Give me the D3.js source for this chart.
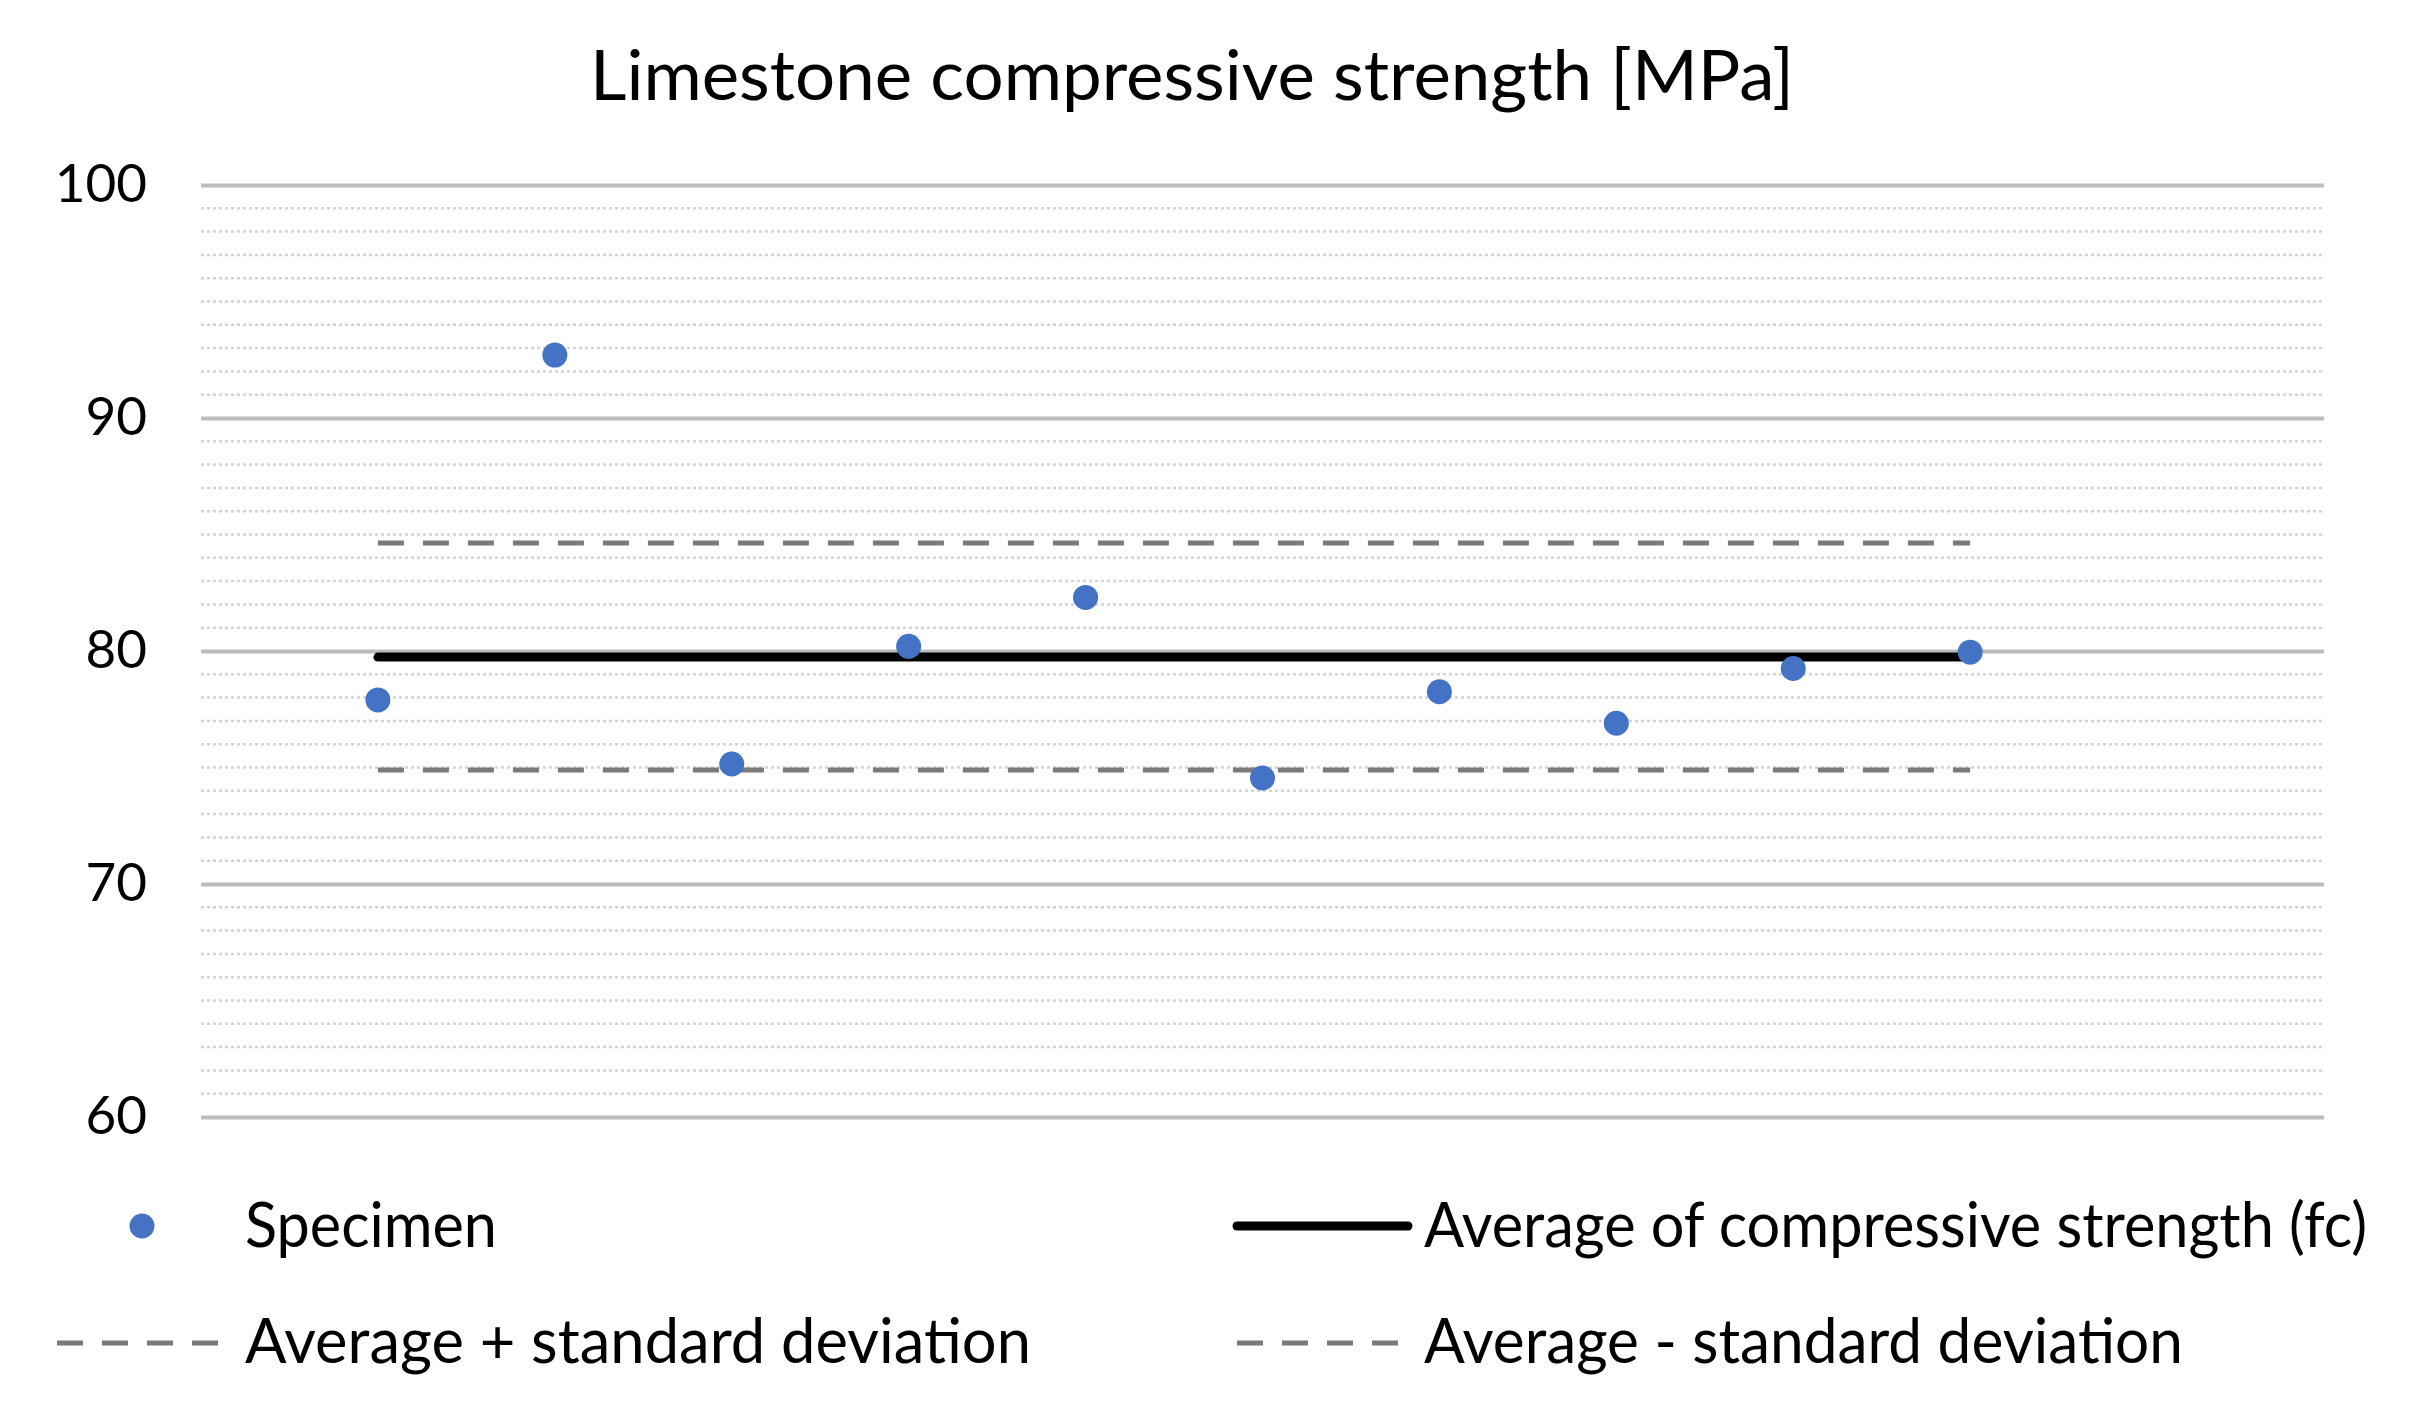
<!DOCTYPE html>
<html>
<head>
<meta charset="utf-8">
<script src="https://cdn.jsdelivr.net/npm/d3@7"></script>
<style>
  body { margin: 0; background: #fff; }
  text { font-family: Lato, "Noto Sans", sans-serif; fill: #000; }
</style>
</head>
<body>
<script>
// values
var specimens = [1, 2, 3, 4, 5, 6, 7, 8, 9, 10];
var strength = [77.9, 92.7, 75.15, 80.2, 82.3, 74.55, 78.25, 76.9, 79.25, 79.95];
var average = 79.74;
var avgPlusSd = 84.64;
var avgMinusSd = 74.89;
var yTicks = [60, 70, 80, 90, 100];
var minorTicks = [61,62,63,64,65,66,67,68,69,71,72,73,74,75,76,77,78,79,81,82,83,84,85,86,87,88,89,91,92,93,94,95,96,97,98,99];
var title = "Limestone compressive strength [MPa]";
var legendLabels = ["Specimen", "Average of compressive strength (fc)", "Average + standard deviation", "Average - standard deviation"];

var W = 2412, H = 1425;
var svg = d3.select("body").append("svg").attr("width", W).attr("height", H);
svg.append("rect").attr("width", W).attr("height", H).attr("fill", "#fff");

var x = d3.scaleLinear().domain([0, 12]).range([201, 2324]);
var y = d3.scaleLinear().domain([60, 100]).range([1117, 185]);

// title
svg.append("text").attr("x", 590).attr("y", 100)
  .attr("font-size", 70).attr("textLength", 1204).attr("lengthAdjust", "spacingAndGlyphs")
  .text(title);

// minor gridlines (dotted)
svg.append("g").selectAll("line").data(minorTicks).join("line")
  .attr("x1", x(0)).attr("x2", x(12))
  .attr("y1", d => y(d)).attr("y2", d => y(d))
  .attr("stroke", "#d4d4d4").attr("stroke-width", 2.5).attr("stroke-dasharray", "3,3");

// major gridlines + tick labels through the axis
var yAxis = svg.append("g").attr("transform", "translate(" + x(0) + ",0)")
  .call(d3.axisLeft(y).tickValues(yTicks).tickSize(-(x(12) - x(0))).tickPadding(54).tickFormat(d3.format("d")));
yAxis.select(".domain").remove();
yAxis.selectAll(".tick line").attr("stroke", "#bcbcbc").attr("stroke-width", 4);
yAxis.selectAll(".tick text").attr("font-size", 53).attr("font-family", "Lato, 'Noto Sans', sans-serif").attr("fill", "#000");

// average and +/- sd lines
var line = d3.line().x(d => x(d[0])).y(d => y(d[1]));
var first = specimens[0], last = specimens[specimens.length - 1];
svg.append("path").attr("d", line([[first, avgPlusSd], [last, avgPlusSd]]))
  .attr("stroke", "#7a7a7a").attr("stroke-width", 5).attr("stroke-dasharray", "26,19").attr("fill", "none");
svg.append("path").attr("d", line([[first, avgMinusSd], [last, avgMinusSd]]))
  .attr("stroke", "#7a7a7a").attr("stroke-width", 5).attr("stroke-dasharray", "26,19").attr("fill", "none");
svg.append("path").attr("d", line([[first, average], [last, average]]))
  .attr("stroke", "#000").attr("stroke-width", 9).attr("stroke-linecap", "round").attr("fill", "none");

// specimen points
svg.append("g").selectAll("circle").data(specimens).join("circle")
  .attr("cx", d => x(d)).attr("cy", (d, i) => y(strength[i]))
  .attr("r", 12.5).attr("fill", "#4472C4");

// legend
var lg = svg.append("g");
lg.append("circle").attr("cx", 142).attr("cy", 1226).attr("r", 12.5).attr("fill", "#4472C4");
lg.append("line").attr("x1", 1237).attr("x2", 1408).attr("y1", 1226).attr("y2", 1226)
  .attr("stroke", "#000").attr("stroke-width", 9).attr("stroke-linecap", "round");
lg.append("line").attr("x1", 57).attr("x2", 218).attr("y1", 1343).attr("y2", 1343)
  .attr("stroke", "#7a7a7a").attr("stroke-width", 5).attr("stroke-dasharray", "26,19");
lg.append("line").attr("x1", 1237).attr("x2", 1398).attr("y1", 1343).attr("y2", 1343)
  .attr("stroke", "#7a7a7a").attr("stroke-width", 5).attr("stroke-dasharray", "26,19");

var legendPos = [[245, 1247, 252], [1424, 1247, 943], [245, 1363, 786], [1424, 1363, 759]];
lg.selectAll("text.lab").data(legendLabels).join("text").attr("class", "lab")
  .attr("x", (d, i) => legendPos[i][0]).attr("y", (d, i) => legendPos[i][1])
  .attr("font-size", 61).attr("textLength", (d, i) => legendPos[i][2]).attr("lengthAdjust", "spacingAndGlyphs")
  .text(d => d);
</script>
</body>
</html>
